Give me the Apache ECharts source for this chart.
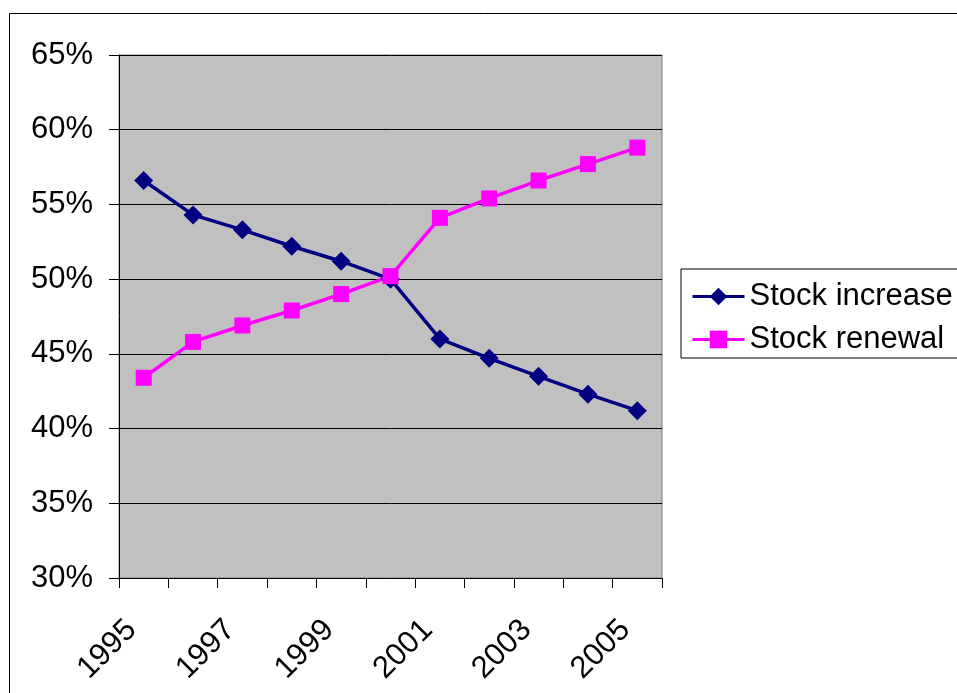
<!DOCTYPE html>
<html>
<head>
<meta charset="utf-8">
<script src="https://cdn.jsdelivr.net/npm/echarts@6/dist/echarts.min.js"></script>
<style>
  html, body { margin: 0; padding: 0; background: #fff; }
  #chart { width: 957px; height: 693px; }
</style>
</head>
<body>
<div id="chart"></div>
<script>
// Years on the category axis
const years = ['1995', '1996', '1997', '1998', '1999', '2000', '2001', '2002', '2003', '2004', '2005'];
// Share of housing stock (percent)
const stockIncrease = [56.6, 54.3, 53.3, 52.2, 51.2, 50.0, 46.0, 44.7, 43.5, 42.3, 41.2];
const stockRenewal = [43.4, 45.8, 46.9, 47.9, 49.0, 50.2, 54.1, 55.4, 56.6, 57.7, 58.8];
// Value axis range and step
const yMin = 30, yMax = 65, yStep = 5;

const FONT = "'Liberation Sans', Arial, sans-serif";
const FS = 31;

const chart = echarts.init(document.getElementById('chart'), null, { renderer: 'canvas' });

chart.setOption({
  animation: false,
  backgroundColor: '#ffffff',
  textStyle: { fontFamily: FONT },
  graphic: [
    {
      type: 'rect',
      z: -1,
      silent: true,
      shape: { x: 9.5, y: 13.5, width: 1000, height: 1000 },
      style: { fill: 'none', stroke: '#000', lineWidth: 1 }
    }
  ],
  grid: {
    left: 119, top: 55, right: 295, bottom: 115,
    show: true,
    backgroundColor: '#c0c0c0',
    borderColor: '#808080',
    borderWidth: 1
  },
  legend: {
    left: 681,
    top: 269,
    orient: 'vertical',
    padding: [12, 30, 3, 10],
    itemGap: 12,
    itemWidth: 52,
    itemHeight: 22,
    lineStyle: { width: 3 },
    borderColor: '#000',
    borderWidth: 1,
    backgroundColor: '#fff',
    textStyle: { fontSize: FS, color: '#000', fontFamily: FONT },
    data: ['Stock increase', 'Stock renewal']
  },
  xAxis: {
    type: 'category',
    data: years,
    boundaryGap: true,
    axisLine: { lineStyle: { color: '#000', width: 1 } },
    axisTick: { show: true, interval: 0, length: 10, lineStyle: { color: '#000' } },
    axisLabel: {
      interval: 1,
      rotate: 45,
      fontSize: FS,
      color: '#000',
      fontFamily: FONT,
      margin: 35,
      padding: [0, 17, 0, 0]
    },
    splitLine: { show: false }
  },
  yAxis: {
    type: 'value',
    min: yMin,
    max: yMax,
    interval: yStep,
    axisLine: { show: true, lineStyle: { color: '#000', width: 1 } },
    axisTick: { show: true, length: 10, lineStyle: { color: '#000' } },
    axisLabel: {
      formatter: '{value}%',
      fontSize: FS,
      color: '#000',
      fontFamily: FONT,
      margin: 26
    },
    splitLine: { show: true, lineStyle: { color: '#000', width: 1 } }
  },
  series: [
    {
      name: 'Stock increase',
      type: 'line',
      data: stockIncrease,
      color: '#000080',
      symbol: 'diamond',
      symbolSize: 19,
      lineStyle: { color: '#000080', width: 3.5 },
      itemStyle: { color: '#000080' }
    },
    {
      name: 'Stock renewal',
      type: 'line',
      data: stockRenewal,
      color: '#ff00ff',
      symbol: 'rect',
      symbolSize: 16,
      lineStyle: { color: '#ff00ff', width: 3.5 },
      itemStyle: { color: '#ff00ff' }
    }
  ]
});
</script>
</body>
</html>
